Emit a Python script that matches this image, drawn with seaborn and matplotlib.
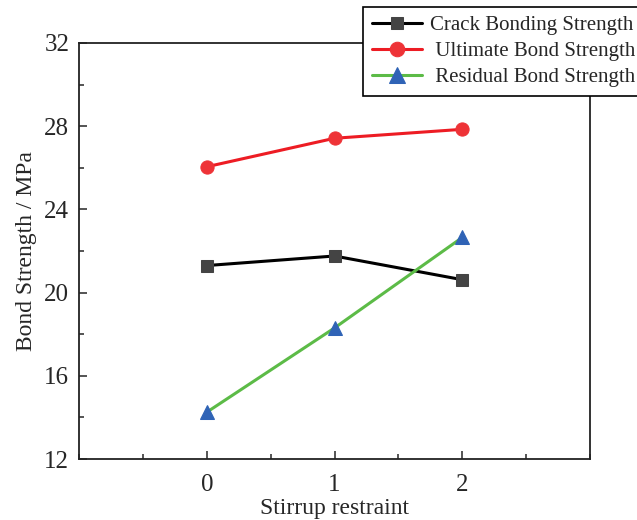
import numpy as np
import pandas as pd
import seaborn as sns
import matplotlib.pyplot as plt
from matplotlib.ticker import MultipleLocator

#data
stirrup = [0, 1, 2]
crack_bond = [21.3, 21.76, 20.62]
ultimate_bond = [26.05, 27.42, 27.85]
residual_bond = [14.25, 18.3, 22.65]

sns.set_style("ticks")
plt.rcParams['font.family'] = ['Liberation Serif', 'DejaVu Serif']

fig = plt.figure(figsize=(6.37, 5.2), dpi=100)
ax = fig.add_axes([79/637, 1 - 459/520, (590 - 79)/637, (459 - 43)/520])

#one line per series
sns.lineplot(x=stirrup, y=crack_bond, ax=ax, color="black", lw=2.2,
             marker="s", markersize=8, markerfacecolor="#444444",
             markeredgecolor="#444444", label="Crack Bonding Strength")
sns.lineplot(x=stirrup, y=ultimate_bond, ax=ax, color="#ED1C24", lw=2.2,
             marker="o", markersize=9.5, markerfacecolor="#EE3337",
             markeredgecolor="#EE3337", label=" Ultimate Bond Strength")
sns.lineplot(x=stirrup, y=residual_bond, ax=ax, color="#5CBB47", lw=2.2,
             marker="^", markersize=10, markerfacecolor="#2F63B6",
             markeredgecolor="#2F63B6", label=" Residual Bond Strength")

ax.set_xlim(-1, 3)
ax.set_ylim(12, 32)
ax.set_xticks([0, 1, 2])
ax.set_yticks([12, 16, 20, 24, 28, 32])
ax.xaxis.set_minor_locator(MultipleLocator(0.5))
ax.yaxis.set_minor_locator(MultipleLocator(2))
ax.tick_params(which="major", direction="in", length=6, width=1.1, labelsize=18)
ax.tick_params(axis="x", which="major", pad=11)
ax.tick_params(axis="y", which="major", pad=7)
ax.tick_params(which="minor", direction="in", length=3.5, width=1.1)
for s in ax.spines.values():
    s.set_linewidth(1.3)
    s.set_color("#222222")

ax.set_xlabel("Stirrup restraint", fontsize=17, labelpad=1)
ax.set_ylabel("Bond Strength / MPa", fontsize=17, labelpad=5)

leg = ax.legend(loc="upper left", bbox_to_anchor=(363/637, 1 - 7/520),
                bbox_transform=fig.transFigure, fontsize=15, frameon=True,
                fancybox=False, edgecolor="black", framealpha=1,
                handlelength=2.4, handletextpad=0.4, labelspacing=0.3,
                borderaxespad=0, borderpad=0.42, markerscale=1.1)
leg.get_frame().set_linewidth(1.2)
leg.set_zorder(10)

fig.savefig("out.png", dpi=100)
